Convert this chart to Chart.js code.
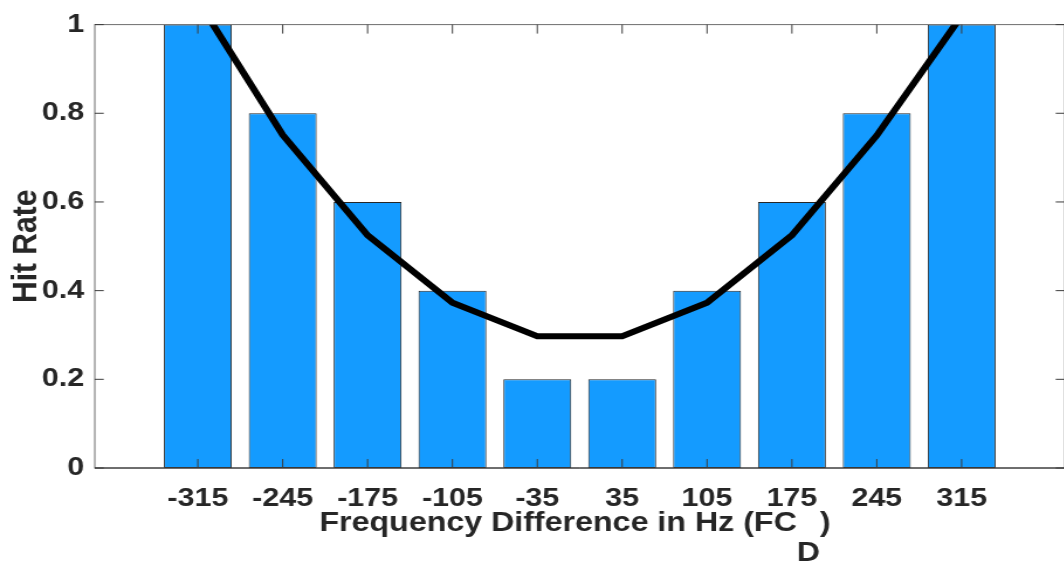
<!DOCTYPE html>
<html>
<head>
<meta charset="utf-8">
<script src="https://cdn.jsdelivr.net/npm/chart.js@4/dist/chart.umd.min.js"></script>
<style>
  html, body { margin: 0; padding: 0; background: #fff; }
  #frame { width: 1064px; height: 567px; overflow: hidden; }
  /* the figure is laid out narrow and then stretched sideways */
  #plot { width: 915px; height: 567px; transform: scaleX(1.17); transform-origin: 0 0; }
</style>
</head>
<body>
<div id="frame"><div id="plot"><canvas id="hitrate" width="915" height="567"></canvas></div></div>
<script>
// frequency difference FC_D (Hz), one bar per step
const freq_diff = [-315, -245, -175, -105, -35, 35, 105, 175, 245, 315];
const hit_rate = [1, 0.8, 0.6, 0.4, 0.2, 0.2, 0.4, 0.6, 0.8, 1];
// fitted curve drawn on top of the bars
const fit_curve = [1.054, 0.751, 0.525, 0.373, 0.297, 0.297, 0.373, 0.525, 0.75, 1.02];
const y_ticks = [0, 0.2, 0.4, 0.6, 0.8, 1];
const x_label = ['Frequency Difference in Hz (FC', 'D', ')'];
const y_label = 'Hit Rate';

const stretch = 1.17;
const tick_len = 9;
const font_family = '"Liberation Sans", Arial, sans-serif';
const text_color = '#262626';

// box around the axes with inward ticks on every side (matlab style)
const axes_box = {
    id: 'axes_box',
    afterDatasetsDraw(chart) {
        const {ctx, chartArea: a, scales: {x, y}} = chart;
        ctx.save();
        ctx.lineWidth = 1;
        ctx.strokeStyle = '#6e6e6e';
        ctx.strokeRect(a.left, a.top, a.right - a.left, a.bottom - a.top);

        ctx.strokeStyle = '#262626';
        ctx.beginPath();
        ctx.moveTo(a.left, y.getPixelForValue(0));
        ctx.lineTo(a.right, y.getPixelForValue(0));
        ctx.stroke();

        ctx.strokeStyle = '#3c3c3c';
        ctx.beginPath();
        freq_diff.forEach(v => {
            const px = x.getPixelForValue(v);
            ctx.moveTo(px, a.bottom);
            ctx.lineTo(px, a.bottom - tick_len);
            ctx.moveTo(px, a.top);
            ctx.lineTo(px, a.top + tick_len);
        });
        y_ticks.forEach(v => {
            const py = y.getPixelForValue(v);
            ctx.moveTo(a.left, py);
            ctx.lineTo(a.left + tick_len / stretch, py);
            ctx.moveTo(a.right, py);
            ctx.lineTo(a.right - tick_len / stretch, py);
        });
        ctx.stroke();
        ctx.restore();
    }
};

// axis titles, the x one has a lowered "D"
const axis_titles = {
    id: 'axis_titles',
    afterDraw(chart) {
        const {ctx, chartArea: a} = chart;
        ctx.save();
        ctx.fillStyle = text_color;
        ctx.font = 'bold 27.5px ' + font_family;
        ctx.textBaseline = 'alphabetic';
        ctx.textAlign = 'left';
        const widths = x_label.map(t => ctx.measureText(t).width);
        let tx = (a.left + a.right) / 2 - 4 - (widths[0] + widths[1] + widths[2]) / 2;
        const base = 531;
        ctx.fillText(x_label[0], tx, base);
        tx += widths[0];
        ctx.fillText(x_label[1], tx, base + 30);
        tx += widths[1];
        ctx.fillText(x_label[2], tx, base);

        ctx.font = 'bold 30px ' + font_family;
        ctx.translate(30.5, (a.top + a.bottom) / 2);
        ctx.rotate(-Math.PI / 2);
        ctx.textAlign = 'center';
        ctx.fillText(y_label, 0, 0);
        ctx.restore();
    }
};

new Chart(document.getElementById('hitrate'), {
    data: {
        datasets: [
            {
                type: 'line',
                data: freq_diff.map((f, i) => ({x: f, y: fit_curve[i]})),
                borderColor: '#000000',
                borderWidth: 6,
                pointRadius: 0,
                tension: 0,
                clip: 0,
                order: 0,
            },
            {
                type: 'bar',
                data: freq_diff.map((f, i) => ({x: f, y: hit_rate[i]})),
                backgroundColor: 'rgb(20, 155, 255)',
                borderColor: '#262626',
                borderWidth: 1,
                borderSkipped: false,
                barPercentage: 0.8,
                categoryPercentage: 1,
                order: 1,
            },
        ]
    },
    options: {
        responsive: false,
        animation: false,
        devicePixelRatio: 1,
        layout: {padding: {top: 18, right: 5, left: 0, bottom: 0}},
        plugins: {legend: {display: false}, tooltip: {enabled: false}},
        scales: {
            x: {
                type: 'linear',
                offset: false,
                min: -400,
                max: 400,
                afterBuildTicks: s => { s.ticks = freq_diff.map(v => ({value: v})); },
                afterFit: s => { s.height = 99; },
                grid: {display: false, drawTicks: false},
                border: {display: false},
                ticks: {
                    autoSkip: false,
                    maxRotation: 0,
                    padding: 15,
                    color: text_color,
                    font: {family: font_family, size: 26, weight: 'bold'},
                    callback: v => String(v),
                },
            },
            y: {
                min: 0,
                max: 1,
                afterBuildTicks: s => { s.ticks = y_ticks.map(v => ({value: v})); },
                afterFit: s => { s.width = 81; },
                grid: {display: false, drawTicks: false},
                border: {display: false},
                ticks: {
                    padding: 9,
                    color: text_color,
                    font: {family: font_family, size: 26, weight: 'bold'},
                    callback: v => String(v),
                },
            },
        },
    },
    plugins: [axes_box, axis_titles],
});
</script>
</body>
</html>
